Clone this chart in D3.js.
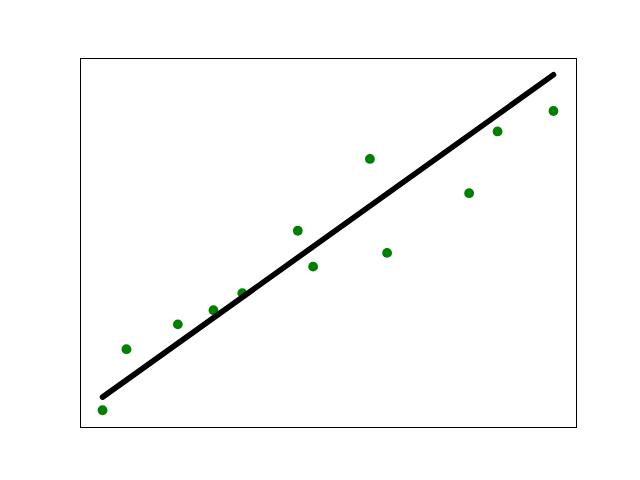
<!DOCTYPE html>
<html>
<head>
<meta charset="utf-8">
<script src="https://cdn.jsdelivr.net/npm/d3@7"></script>
<style>
  body { margin: 0; background: #fff; }
</style>
</head>
<body>
<div class="chart"></div>
<script>
// scatter points
var xs = [0, 0.53, 1.67, 2.46, 3.10, 4.33, 4.67, 5.93, 6.31, 8.13, 8.76, 10.0];
var ys = [0, 1.82, 2.56, 2.98, 3.49, 5.35, 4.28, 7.49, 4.69, 6.47, 8.31, 8.92];
// fitted line end points
var lineX = [0, 10.0];
var lineY = [0.39, 10.0];

var width = 640, height = 480;
var plotLeft = 80, plotRight = 576, plotTop = 58, plotBottom = 427;

var svg = d3.select(".chart").append("svg")
    .attr("width", width)
    .attr("height", height);

// matplotlib style 5% margins
var x = d3.scaleLinear().domain([-0.5, 10.5]).range([plotLeft, plotRight]);
var y = d3.scaleLinear().domain([-0.5, 10.5]).range([plotBottom, plotTop]);

var points = xs.map(function (d, i) { return {x: d, y: ys[i]}; });
var fit = lineX.map(function (d, i) { return {x: d, y: lineY[i]}; });

svg.selectAll("circle")
    .data(points)
    .enter()
    .append("circle")
    .attr("cx", function (d) { return x(d.x); })
    .attr("cy", function (d) { return y(d.y); })
    .attr("r", 4.9)
    .attr("fill", "#008000");

var line = d3.line()
    .x(function (d) { return x(d.x); })
    .y(function (d) { return y(d.y); });

svg.append("path")
    .datum(fit)
    .attr("d", line)
    .attr("fill", "none")
    .attr("stroke", "#000")
    .attr("stroke-width", 5.6)
    .attr("stroke-linecap", "round");

//frame
svg.append("rect")
    .attr("x", plotLeft + 0.5)
    .attr("y", plotTop + 0.5)
    .attr("width", plotRight - plotLeft)
    .attr("height", plotBottom - plotTop)
    .attr("fill", "none")
    .attr("stroke", "#000")
    .attr("stroke-width", 1);
</script>
</body>
</html>
